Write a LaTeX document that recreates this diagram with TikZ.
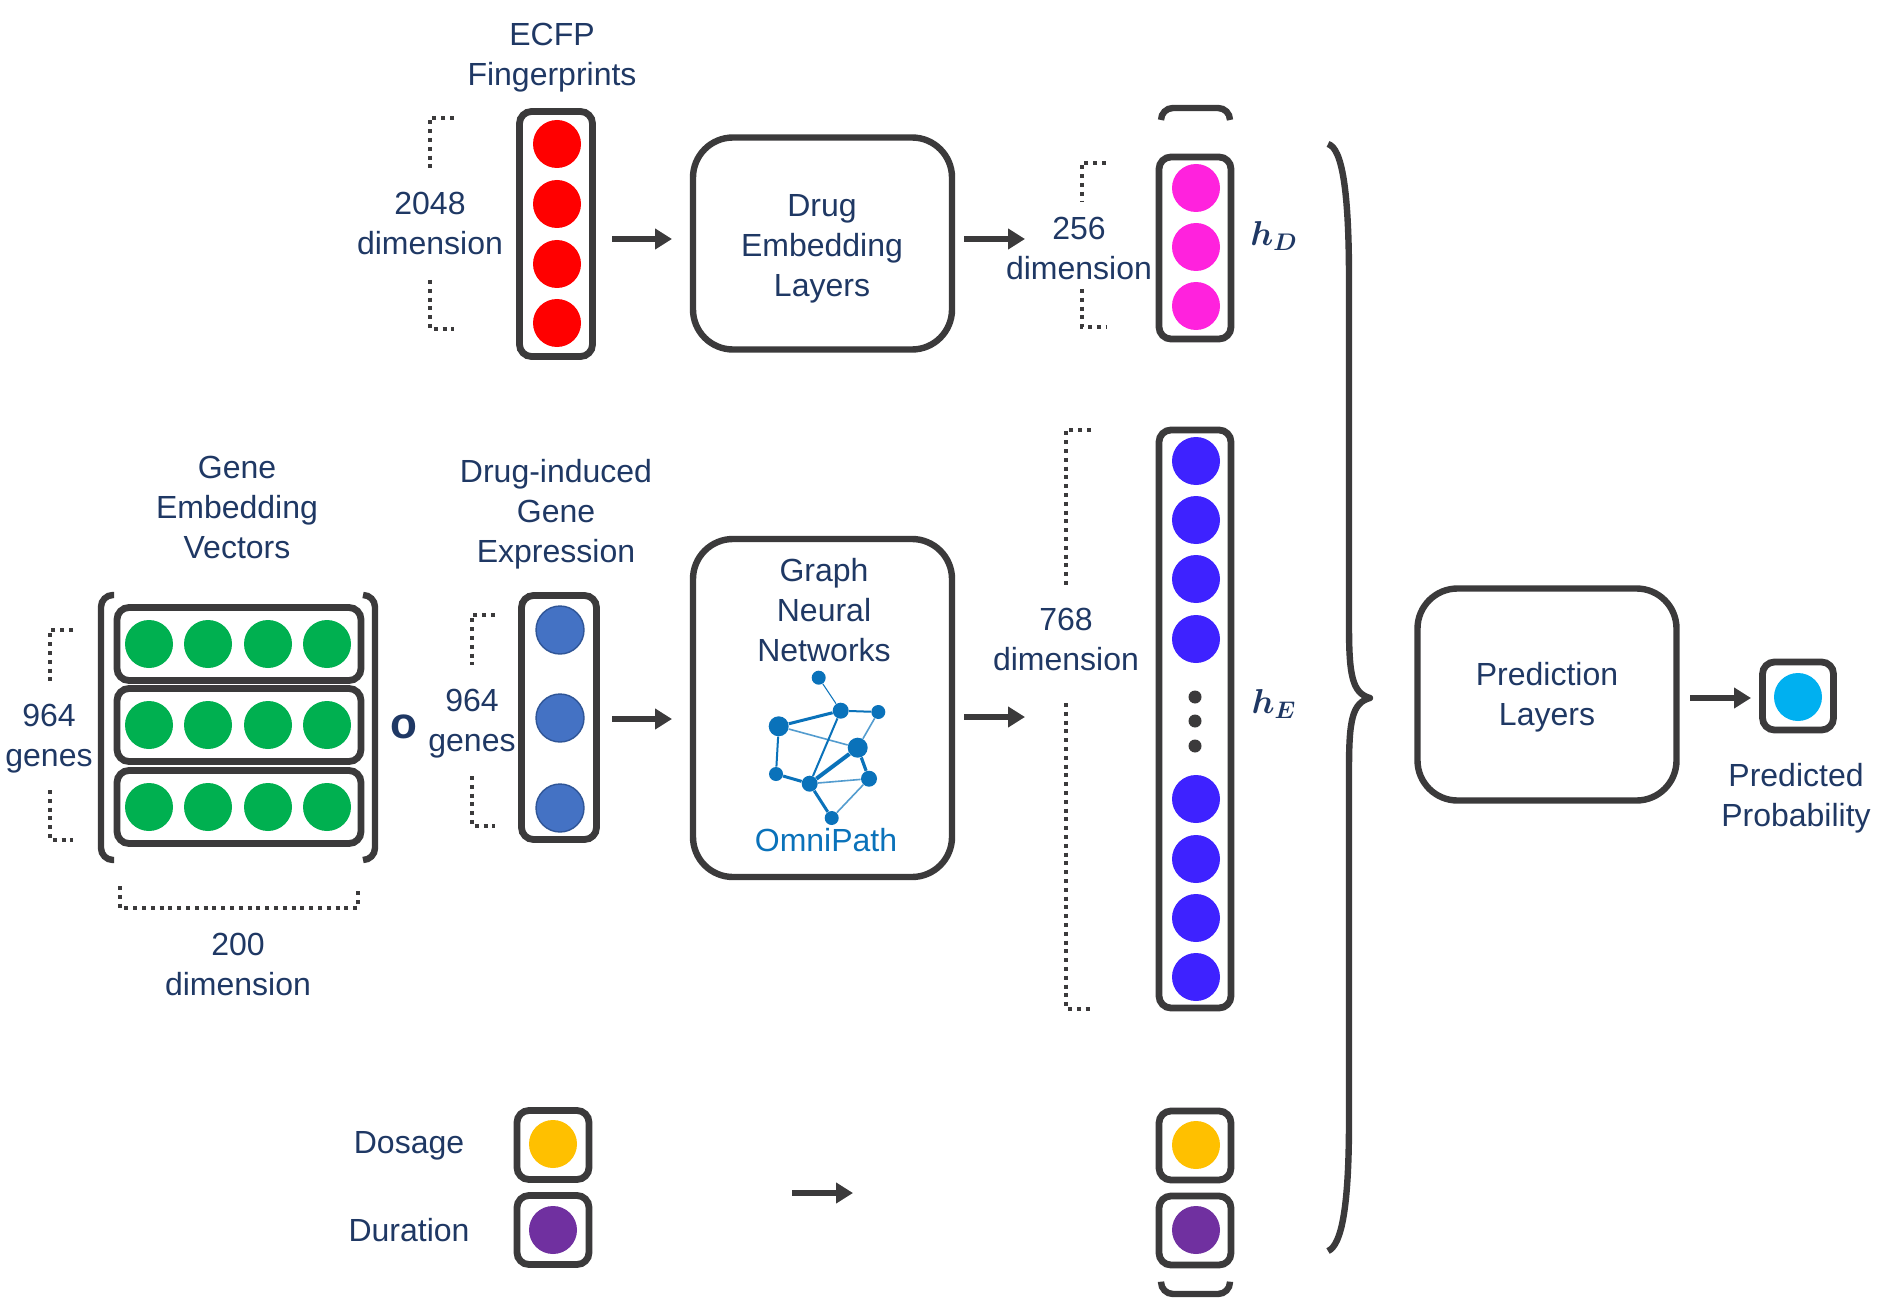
\documentclass[tikz,border=0pt]{standalone}
\usepackage{fontspec}
\setmainfont{Liberation Sans}
\usetikzlibrary{arrows.meta}
\definecolor{inkblue}{HTML}{1F3864}
\definecolor{frame}{HTML}{3B3A3B}
\definecolor{netblue}{HTML}{0A72BA}
\tikzset{
  x=0.5pt,y=-0.5pt,
  lbl/.style={text=inkblue,align=center,inner sep=0pt,font=\fontsize{16}{20}\selectfont},
  pathlbl/.style={text=netblue,align=center,inner sep=0pt,font=\fontsize{16}{20}\selectfont},
  mathlbl/.style={text=inkblue,inner sep=0pt,font=\fontsize{18}{20}\selectfont\boldmath},
  vec/.style={draw=frame,line width=3.4pt,rounded corners=6pt,inner sep=0pt,fill=white},
  blockbox/.style={draw=frame,line width=3.2pt,rounded corners=20pt,inner sep=0pt,fill=white,text=inkblue},
  dot/.style={circle,inner sep=0pt,minimum size=24pt},
  smalldot/.style={circle,inner sep=0pt,minimum size=6.5pt,fill=frame},
  geneblue/.style={circle,inner sep=0pt,minimum size=24pt,fill=geneb,draw=genee,line width=0.7pt},
  arr/.style={draw=frame,line width=3pt,-{Triangle[length=8.5pt,width=10pt]}},
  dotbr/.style={draw=frame,line width=2pt,dash pattern=on 2pt off 2.4pt},
  solidbr/.style={draw=frame,line width=3.2pt,rounded corners=6pt},
  brc/.style={draw=frame,line width=3.2pt,line join=round},
  nn/.style={circle,fill=netblue,inner sep=0pt},
  ne/.style={draw=netblue,line width=#1},
  nl/.style={draw=netblue!70,line width=#1}
}
\definecolor{geneb}{HTML}{4472C4}
\definecolor{genee}{HTML}{2F5597}
\definecolor{hgreen}{HTML}{00B050}
\definecolor{hred}{HTML}{FF0000}
\definecolor{hpink}{HTML}{FF22DD}
\definecolor{hviolet}{HTML}{3E22FF}
\definecolor{hgold}{HTML}{FFC000}
\definecolor{hpurple}{HTML}{7030A0}
\definecolor{hcyan}{HTML}{00B0F0}
\begin{document}
\begin{tikzpicture}
\useasboundingbox (0,0) rectangle (1890,1300);

% top row
\node[lbl] (ecfplbl) at (552,58) {ECFP\\Fingerprints};
\node[vec,minimum width=36.5pt,minimum height=122.5pt] (ecfp) at (556,234) {};
\foreach \i/\y in {1/144,2/204,3/264,4/323}{\node[dot,fill=hred] (ecfp\i) at (557,\y) {};}
\node[lbl] (d2048) at (430,223) {2048\\dimension};
\draw[dotbr] (454,118) -- (430,118) -- (430,169);
\draw[dotbr] (430,280) -- (430,329) -- (454,329);

\node[blockbox,minimum width=129.5pt,minimum height=106pt] (drug) at (822.5,243.5) {};
\node[lbl] (drugl) at (822,249) {Drug\\Embedding\\Layers};

\node[lbl] (d256) at (1079,248) {256\\dimension};
\draw[dotbr] (1106,163) -- (1082,163) -- (1082,201);
\draw[dotbr] (1082,289) -- (1082,327) -- (1106,327);
\node[vec,minimum width=36pt,minimum height=91pt] (hd) at (1195,248) {};
\foreach \i/\y in {1/188,2/247,3/306}{\node[dot,fill=hpink] (hd\i) at (1196,\y) {};}
\node[mathlbl] (hdl) at (1274,236) {$h_D$};
\draw[solidbr] (1161,120) -- (1161,108) -- (1230,108) -- (1230,120);

\coordinate (a1s) at (612,239); \coordinate (a1e) at (672,239);
\draw[arr] (a1s) -- (a1e);
\coordinate (a2s) at (964,239); \coordinate (a2e) at (1025,239);
\draw[arr] (a2s) -- (a2e);

% middle row
\node[lbl] (gevlbl) at (237,507) {Gene\\Embedding\\Vectors};
\node[lbl] (dgelbl) at (556,514) {Drug-induced\\Gene\\Expression};
\foreach \r/\y in {1/644,2/725,3/807}{
  \node[vec,minimum width=122pt,minimum height=36.5pt] (row\r) at (239,\y) {};
  \foreach \c/\x in {1/149,2/208,3/268,4/327}{\node[dot,fill=hgreen] (g\r\c) at (\x,\y) {};}
}
\draw[solidbr] (114,595) -- (101,595) -- (101,860) -- (114,860);
\draw[solidbr] (363,595) -- (375,595) -- (375,860) -- (363,860);
\node[lbl] (g964a) at (49,739) {964\\genes};
\draw[dotbr] (73,630) -- (50,630) -- (50,685);
\draw[dotbr] (50,790) -- (50,840) -- (73,840);
\draw[dotbr] (120,886) -- (120,908) -- (358,908) -- (358,887);
\node[lbl] (d200) at (238,964) {200\\dimension};
\node[text=inkblue,inner sep=0pt,font=\fontsize{22}{22}\selectfont\bfseries] (hada) at (404,727) {o};
\node[lbl] (g964b) at (472,724) {964\\genes};
\draw[dotbr] (495,615) -- (472,615) -- (472,665);
\draw[dotbr] (472,776) -- (472,826) -- (495,826);
\node[vec,minimum width=37.5pt,minimum height=122pt] (gex) at (559,717.5) {};
\foreach \i/\y in {1/630,2/718,3/808}{\node[geneblue] (gex\i) at (560,\y) {};}

\node[blockbox,minimum width=129.5pt,minimum height=169pt] (gnn) at (822.5,708) {};
\node[lbl] (gnnl) at (824,610) {Graph\\Neural\\Networks};
\node[pathlbl] (omni) at (826,840) {OmniPath};
\node[nn,minimum size=7pt] (n1) at (818.7,677.7) {};
\node[nn,minimum size=8pt] (n2) at (840.7,710.7) {};
\node[nn,minimum size=7pt] (n3) at (878.3,712) {};
\node[nn,minimum size=10pt] (n4) at (778.7,726.3) {};
\node[nn,minimum size=10pt] (n5) at (857.7,747.7) {};
\node[nn,minimum size=7pt] (n6) at (776,774) {};
\node[nn,minimum size=8pt] (n7) at (809.7,783.7) {};
\node[nn,minimum size=8pt] (n8) at (869,778.7) {};
\node[nn,minimum size=7pt] (n9) at (831.7,818) {};
\draw[ne=0.5pt] (n1) -- (n2);
\draw[ne=1pt] (n2) -- (n3);
\draw[ne=1.5pt] (n4) -- (n2);
\draw[nl=0.8pt] (n4) -- (n5);
\draw[ne=1pt] (n2) -- (n7);
\draw[nl=0.8pt] (n3) -- (n5);
\draw[ne=2pt] (n5) -- (n7);
\draw[ne=1.6pt] (n5) -- (n8);
\draw[nl=0.8pt] (n7) -- (n8);
\draw[ne=1pt] (n4) -- (n6);
\draw[ne=1.5pt] (n6) -- (n7);
\draw[ne=1.5pt] (n7) -- (n9);
\draw[nl=0.8pt] (n8) -- (n9);

\coordinate (a3s) at (612,719); \coordinate (a3e) at (672,719);
\draw[arr] (a3s) -- (a3e);
\coordinate (a4s) at (964,717); \coordinate (a4e) at (1025,717);
\draw[arr] (a4s) -- (a4e);

\node[lbl] (d768) at (1066,639) {768\\dimension};
\draw[dotbr] (1091,430) -- (1066,430) -- (1066,585);
\draw[dotbr] (1066,703) -- (1066,1009) -- (1091,1009);
\node[vec,minimum width=36pt,minimum height=289pt] (he) at (1195,719) {};
\foreach \i/\y in {1/461,2/520,3/579,4/639,5/799,6/859,7/918,8/977}{\node[dot,fill=hviolet] (he\i) at (1196,\y) {};}
\foreach \i/\y in {1/697,2/721,3/746}{\node[smalldot] (hedot\i) at (1195,\y) {};}
\node[mathlbl] (hel) at (1274,704) {$h_E$};

% bottom row
\node[lbl] (dos) at (409,1146) {Dosage};
\node[lbl] (dur) at (409,1230) {Duration};
\node[vec,minimum width=36pt,minimum height=34.5pt] (bdos) at (553,1145) {};
\node[vec,minimum width=36pt,minimum height=34.5pt] (bdur) at (553,1230) {};
\node[dot,fill=hgold] (cdos) at (553,1144) {};
\node[dot,fill=hpurple] (cdur) at (553,1230) {};
\coordinate (a5s) at (792,1193); \coordinate (a5e) at (853,1193);
\draw[arr] (a5s) -- (a5e);
\node[vec,minimum width=36pt,minimum height=34.5pt] (rdos) at (1195,1145.5) {};
\node[vec,minimum width=36pt,minimum height=34.5pt] (rdur) at (1195,1230.5) {};
\node[dot,fill=hgold] (cdosr) at (1196,1145) {};
\node[dot,fill=hpurple] (cdurr) at (1196,1230) {};
\draw[solidbr] (1161,1283) -- (1161,1294) -- (1230,1294) -- (1230,1283);

% brace
\draw[brc] (1328,144) .. controls (1342,148) and (1349,190) .. (1349,280) -- (1349,625)
  .. controls (1349,675) and (1352,693) .. (1370,698)
  .. controls (1352,703) and (1349,720) .. (1349,770) -- (1349,1120)
  .. controls (1349,1205) and (1342,1245) .. (1328,1251);

% prediction
\node[blockbox,minimum width=129.5pt,minimum height=106pt] (pred) at (1547,694.5) {};
\node[lbl] (predl) at (1547,697.5) {Prediction\\Layers};
\coordinate (a6s) at (1690,698); \coordinate (a6e) at (1751,698);
\draw[arr] (a6s) -- (a6e);
\node[vec,minimum width=35.5pt,minimum height=34pt] (pbox) at (1798,696) {};
\node[dot,fill=hcyan] (pdot) at (1798,697) {};
\node[lbl] (plbl) at (1796,798) {Predicted\\Probability};
\end{tikzpicture}
\end{document}
